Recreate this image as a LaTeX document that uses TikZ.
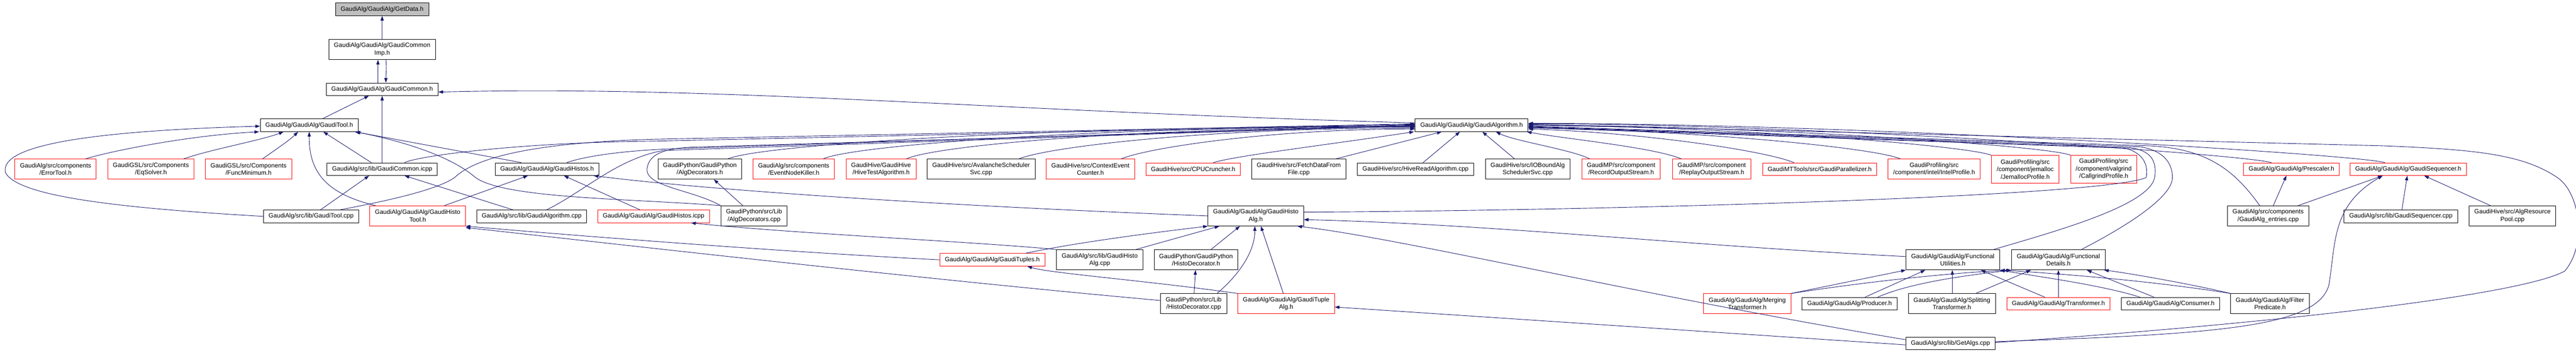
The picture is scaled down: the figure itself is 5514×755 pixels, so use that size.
\documentclass[tikz,border=0pt]{standalone}
\usepackage{fontspec}
\setmainfont{Liberation Sans}
\usetikzlibrary{arrows.meta}
\definecolor{edgeBlue}{HTML}{191970}
\definecolor{rootGray}{HTML}{BFBFBF}

\begin{document}
\begin{tikzpicture}[x = 1pt, y = -1pt]
	\tikzstyle{fileStyle}=[draw = black, line width = 1pt, fill = white, align = center, inner xsep = 11pt, inner ysep = 3pt, minimum height = 27pt, font = \fontsize{13.3}{16}\selectfont]
	\tikzstyle{redStyle}=[fileStyle, draw = red]
	\tikzstyle{rootStyle}=[fileStyle, fill = rootGray]
	\tikzstyle{twoLine}=[minimum height = 43pt]
	\tikzstyle{threeLine}=[minimum height = 59pt]
	\tikzstyle{EdgeStyle}=[draw = edgeBlue, line width = 1pt, -{Triangle[length = 10pt, width = 7pt]}]
	\useasboundingbox (0,0) rectangle (5514,755);
	% top of the graph
	\node[rootStyle] (getdata) at (818,20) {GaudiAlg/GaudiAlg/GetData.h};
	\node[fileStyle, twoLine] (commonimp) at (818,106) {GaudiAlg/GaudiAlg/GaudiCommon\\Imp.h};
	\node[fileStyle] (common) at (818,191) {GaudiAlg/GaudiAlg/GaudiCommon.h};
	\node[fileStyle] (tool) at (662,268) {GaudiAlg/GaudiAlg/GaudiTool.h};
	\node[fileStyle] (algh) at (3150,268) {GaudiAlg/GaudiAlg/GaudiAlgorithm.h};
	% row 4
	\node[redStyle, twoLine] (errortool) at (119,362) {GaudiAlg/src/components\\/ErrorTool.h};
	\node[redStyle, twoLine] (eqsolver) at (323,362) {GaudiGSL/src/Components\\/EqSolver.h};
	\node[redStyle, twoLine] (funcmin) at (532,362) {GaudiGSL/src/Components\\/FuncMinimum.h};
	\node[fileStyle] (commonicpp) at (818,362) {GaudiAlg/src/lib/GaudiCommon.icpp};
	\node[fileStyle] (histos) at (1171,362) {GaudiAlg/GaudiAlg/GaudiHistos.h};
	\node[fileStyle, twoLine] (algdech) at (1498,362) {GaudiPython/GaudiPython\\/AlgDecorators.h};
	\node[redStyle, twoLine] (enk) at (1699,362) {GaudiAlg/src/components\\/EventNodeKiller.h};
	\node[redStyle, twoLine] (hivetest) at (1886,362) {GaudiHive/GaudiHive\\/HiveTestAlgorithm.h};
	\node[fileStyle, twoLine] (avalanche) at (2100,362) {GaudiHive/src/AvalancheScheduler\\Svc.cpp};
	\node[redStyle, twoLine] (ctxcounter) at (2334,362) {GaudiHive/src/ContextEvent\\Counter.h};
	\node[redStyle] (cpucruncher) at (2554,362) {GaudiHive/src/CPUCruncher.h};
	\node[fileStyle, twoLine] (fetchdata) at (2780,362) {GaudiHive/src/FetchDataFrom\\File.cpp};
	\node[fileStyle] (hiveread) at (3030,362) {GaudiHive/src/HiveReadAlgorithm.cpp};
	\node[fileStyle, twoLine] (iobound) at (3270,362) {GaudiHive/src/IOBoundAlg\\SchedulerSvc.cpp};
	\node[redStyle, twoLine] (recordos) at (3470,362) {GaudiMP/src/component\\/RecordOutputStream.h};
	\node[redStyle, twoLine] (replayos) at (3664,362) {GaudiMP/src/component\\/ReplayOutputStream.h};
	\node[redStyle] (parallelizer) at (3895,362) {GaudiMTTools/src/GaudiParallelizer.h};
	\node[redStyle, twoLine] (intelprof) at (4140,362) {GaudiProfiling/src\\/component/intel/IntelProfile.h};
	\node[redStyle, threeLine] (jemalloc) at (4335,362) {GaudiProfiling/src\\/component/jemalloc\\/JemallocProfile.h};
	\node[redStyle, threeLine] (callgrind) at (4503,362) {GaudiProfiling/src\\/component/valgrind\\/CallgrindProfile.h};
	\node[redStyle] (prescaler) at (4905,362) {GaudiAlg/GaudiAlg/Prescaler.h};
	\node[redStyle] (sequencer) at (5155,362) {GaudiAlg/GaudiAlg/GaudiSequencer.h};
	% row 5
	\node[fileStyle] (toolcpp) at (666,463) {GaudiAlg/src/lib/GaudiTool.cpp};
	\node[redStyle, twoLine] (histotool) at (894,462) {GaudiAlg/GaudiAlg/GaudiHisto\\Tool.h};
	\node[fileStyle] (algcpp) at (1138,463) {GaudiAlg/src/lib/GaudiAlgorithm.cpp};
	\node[redStyle] (histosicpp) at (1399,463) {GaudiAlg/GaudiAlg/GaudiHistos.icpp};
	\node[fileStyle, twoLine] (algdeccpp) at (1614,462) {GaudiPython/src/Lib\\/AlgDecorators.cpp};
	\node[fileStyle, twoLine] (histoalg) at (2688,462) {GaudiAlg/GaudiAlg/GaudiHisto\\Alg.h};
	\node[fileStyle, twoLine] (entries) at (4855,462) {GaudiAlg/src/components\\/GaudiAlg\_entries.cpp};
	\node[fileStyle] (seqcpp) at (5139,463) {GaudiAlg/src/lib/GaudiSequencer.cpp};
	\node[fileStyle, twoLine] (respool) at (5378,462) {GaudiHive/src/AlgResource\\Pool.cpp};
	% row 6
	\node[redStyle] (tuples) at (2124,556) {GaudiAlg/GaudiAlg/GaudiTuples.h};
	\node[fileStyle, twoLine] (histoalgcpp) at (2354,556) {GaudiAlg/src/lib/GaudiHisto\\Alg.cpp};
	\node[fileStyle, twoLine] (histodech) at (2560,556) {GaudiPython/GaudiPython\\/HistoDecorator.h};
	\node[fileStyle, twoLine] (funcutil) at (4180,556) {GaudiAlg/GaudiAlg/Functional\\Utilities.h};
	\node[fileStyle, twoLine] (funcdet) at (4406,556) {GaudiAlg/GaudiAlg/Functional\\Details.h};
	% row 7
	\node[fileStyle, twoLine] (histodeccpp) at (2555,650) {GaudiPython/src/Lib\\/HistoDecorator.cpp};
	\node[redStyle, twoLine] (tuplealg) at (2753,650) {GaudiAlg/GaudiAlg/GaudiTuple\\Alg.h};
	\node[redStyle, twoLine] (merging) at (3740,650) {GaudiAlg/GaudiAlg/Merging\\Transformer.h};
	\node[fileStyle] (producer) at (3959,650) {GaudiAlg/GaudiAlg/Producer.h};
	\node[fileStyle, twoLine] (splitting) at (4178,650) {GaudiAlg/GaudiAlg/Splitting\\Transformer.h};
	\node[redStyle] (transformer) at (4406,650) {GaudiAlg/GaudiAlg/Transformer.h};
	\node[fileStyle] (consumer) at (4646,650) {GaudiAlg/GaudiAlg/Consumer.h};
	\node[fileStyle, twoLine] (filterpred) at (4859,650) {GaudiAlg/GaudiAlg/Filter\\Predicate.h};
	% row 8
	\node[fileStyle] (getalgs) at (4175,735) {GaudiAlg/src/lib/GetAlgs.cpp};
	% edges of the top part
	\draw[EdgeStyle] (commonimp) -- (getdata);
	\draw[EdgeStyle] ([xshift=-9pt]common.north) -- ([xshift=-9pt]commonimp.south);
	\draw[EdgeStyle] ([xshift=8pt]commonimp.south) .. controls +(2,20) and +(0,-20) .. ([xshift=8pt]common.north);
	\draw[EdgeStyle] (tool) -- (common);
	\draw[EdgeStyle] (commonicpp) -- (common);
	\draw[EdgeStyle] ([yshift=5pt]algh.west) .. controls +(-900,-25) and +(600,-15) .. ([yshift=-6pt]common.east);
	% edges into GaudiTool.h
	\draw[EdgeStyle] ([xshift=64pt]errortool.north) .. controls (230,325) and (400,290) .. ([xshift=-2pt]tool.south west);
	\draw[EdgeStyle] ([xshift=70pt]eqsolver.north) .. controls (450,320) and (560,300) .. ([xshift=-55pt]tool.south);
	\draw[EdgeStyle] ([xshift=30pt]funcmin.north) .. controls (590,320) and (620,300) .. ([xshift=-24pt]tool.south);
	\draw[EdgeStyle] (toolcpp.west) .. controls (250,445) and (40,420) .. (12,370) .. controls (-5,310) and (200,280) .. ([yshift=-2pt]tool.west);
	\draw[EdgeStyle] ([xshift=-90pt]histotool.north) .. controls (700,415) and (661,370) .. (tool.south);
	\draw[EdgeStyle] ([xshift=-23pt]commonicpp.north) -- ([xshift=30pt]tool.south);
	\draw[EdgeStyle] ([xshift=-55pt]histos.north) -- ([xshift=-8pt]tool.south east);
	\draw[EdgeStyle] (algdeccpp.north west) .. controls (1350,425) and (1080,425) .. (1018,380) .. controls (960,330) and (850,300) .. ([xshift=-6pt]tool.south east);
	% edges into GaudiCommon.icpp and GaudiHistos.h
	\draw[EdgeStyle] ([xshift=20pt]toolcpp.north) -- ([xshift=-28pt]commonicpp.south);
	\draw[EdgeStyle] ([xshift=-40pt]algcpp.north) -- ([xshift=48pt]commonicpp.south);
	\draw[EdgeStyle] ([xshift=57pt]histotool.north) -- ([xshift=-41pt]histos.south);
	\draw[EdgeStyle] ([xshift=-29pt]histosicpp.north) -- ([xshift=36pt]histos.south);
	\draw[EdgeStyle] (histoalg.west) .. controls (2000,440) and (1500,405) .. ([xshift=-12pt]histos.south east);
	\draw[EdgeStyle] ([xshift=-24pt]algdeccpp.north) -- ([xshift=30pt]algdech.south);
	% edges into GaudiAlgorithm.h from the left
	\draw[EdgeStyle] ([xshift=62pt]toolcpp.north) .. controls (800,435) and (930,410) .. (973,380) .. controls (1020,335) and (1150,305) .. (1400,298) -- ([yshift=3pt]algh.west);
	\draw[EdgeStyle] ([xshift=48pt]commonicpp.north) .. controls (890,335) and (1100,305) .. (1400,302) -- ([yshift=2pt]algh.west);
	\draw[EdgeStyle] ([xshift=42pt]histos.north) .. controls (1250,335) and (1330,322) .. (1450,318) -- ([yshift=1pt]algh.west);
	\draw[EdgeStyle] ([xshift=32pt]algcpp.north) .. controls (1250,410) and (1320,340) .. (1420,322) -- (algh.west);
	\draw[EdgeStyle] (algdeccpp.north west) .. controls (1480,405) and (1380,400) .. (1385,360) .. controls (1390,330) and (1420,318) .. (1480,315) -- ([yshift=-1pt]algh.west);
	\draw[EdgeStyle] ([xshift=60pt]algdech.north) .. controls +(70,-30) and +(-800,0) .. ([yshift=-2pt]algh.west);
	\draw[EdgeStyle] ([xshift=63pt]enk.north) .. controls +(60,-28) and +(-700,0) .. ([yshift=-3pt]algh.west);
	\draw[EdgeStyle] ([xshift=54pt]hivetest.north) .. controls +(60,-28) and +(-600,0) .. ([yshift=-4pt]algh.west);
	\draw[EdgeStyle] ([xshift=81pt]avalanche.north) .. controls +(60,-25) and +(-450,0) .. ([yshift=-6pt]algh.west);
	\draw[EdgeStyle] ([xshift=66pt]ctxcounter.north) .. controls +(60,-25) and +(-300,0) .. ([yshift=-8pt]algh.west);
	\draw[EdgeStyle] ([xshift=43pt]cpucruncher.north) .. controls +(50,-15) and +(-200,30) .. ([xshift=-2pt]algh.south west);
	\draw[EdgeStyle] ([xshift=79pt]fetchdata.north) -- ([xshift=-64pt]algh.south);
	\draw[EdgeStyle] ([xshift=16pt]hiveread.north) -- ([xshift=-25pt]algh.south);
	\draw[EdgeStyle] ([xshift=-28pt]iobound.north) -- ([xshift=23pt]algh.south);
	\draw[EdgeStyle] ([xshift=-67pt]recordos.north) .. controls +(-40,-20) and +(40,20) .. ([xshift=52pt]algh.south);
	\draw[EdgeStyle] ([xshift=-65pt]replayos.north) .. controls +(-60,-25) and +(80,15) .. ([xshift=-3pt]algh.south east);
	% edges into GaudiAlgorithm.h from the right
	\draw[EdgeStyle] ([xshift=-55pt]parallelizer.north) .. controls +(-60,-25) and +(250,8) .. ([yshift=-8pt]algh.east);
	\draw[EdgeStyle] ([xshift=-72pt]intelprof.north) .. controls +(-60,-25) and +(350,5) .. ([yshift=-6pt]algh.east);
	\draw[EdgeStyle] ([xshift=-73pt]jemalloc.north) .. controls +(-60,-22) and +(400,0) .. ([yshift=-1pt]algh.east);
	\draw[EdgeStyle] ([xshift=-71pt]callgrind.north) .. controls +(-60,-22) and +(450,0) .. (algh.east);
	\draw[EdgeStyle] ([xshift=-43pt]prescaler.north) .. controls +(-60,-18) and +(600,0) .. ([yshift=3pt]algh.east);
	\draw[EdgeStyle] ([xshift=-50pt]sequencer.north) .. controls +(-60,-18) and +(700,0) .. ([yshift=4pt]algh.east);
	\draw[EdgeStyle] ([xshift=-18pt]entries.north) .. controls (4780,360) and (4720,318) .. (4600,312) -- ([yshift=-2pt]algh.east);
	\draw[EdgeStyle] ([yshift=8pt]histoalg.east) .. controls (3500,450) and (4500,420) .. (4594,380) .. controls (4600,345) and (4580,325) .. (4548,317) -- ([yshift=-5pt]algh.east);
	\draw[EdgeStyle] ([xshift=87pt]funcutil.north) .. controls (4400,495) and (4600,440) .. (4612,380) .. controls (4618,340) and (4600,322) .. (4560,316) -- ([yshift=-4pt]algh.east);
	\draw[EdgeStyle] ([xshift=49pt]funcdet.north) .. controls (4560,480) and (4650,420) .. (4650,380) .. controls (4650,340) and (4620,320) .. (4580,314) -- ([yshift=-3pt]algh.east);
	\draw[EdgeStyle] ([yshift=2pt]getalgs.east) .. controls (4900,690) and (5400,630) .. (5490,580) .. controls (5540,520) and (5520,410) .. (5474,380) .. controls (5400,330) and (5300,320) .. (5100,312) -- ([yshift=2pt]algh.east);
	% edges into GaudiSequencer.h and Prescaler.h
	\draw[EdgeStyle] ([xshift=11pt]entries.north) -- ([xshift=-11pt]prescaler.south);
	\draw[EdgeStyle] ([xshift=64pt]entries.north) -- ([xshift=-55pt]sequencer.south);
	\draw[EdgeStyle] (seqcpp) -- (sequencer);
	\draw[EdgeStyle] ([xshift=-47pt]respool.north) -- ([xshift=34pt]sequencer.south);
	\draw[EdgeStyle] ([yshift=4pt]getalgs.east) .. controls (4750,715) and (4960,700) .. (4985,610) .. controls (5000,520) and (4990,440) .. ([xshift=-55pt]sequencer.south);
	% edges of the histo part
	\draw[EdgeStyle] (tuples.west) .. controls (1700,540) and (1300,510) .. (histotool.south east);
	\draw[EdgeStyle] ([yshift=7pt]histodeccpp.west) .. controls (2000,600) and (1300,520) .. ([yshift=-3pt]histotool.south east);
	\draw[EdgeStyle] (histoalgcpp.north west) .. controls (2100,518) and (1700,500) .. ([xshift=-40pt]histosicpp.south east);
	\draw[EdgeStyle] ([xshift=71pt]tuples.north) .. controls (2300,520) and (2450,500) .. (histoalg.south west);
	\draw[EdgeStyle] ([xshift=77pt]histoalgcpp.north) -- ([xshift=-78pt]histoalg.south);
	\draw[EdgeStyle] ([xshift=32pt]histodech.north) -- ([xshift=-34pt]histoalg.south);
	\draw[EdgeStyle] ([xshift=50pt]histodeccpp.north) .. controls (2650,590) and (2686,540) .. ([xshift=-2pt]histoalg.south);
	\draw[EdgeStyle] ([xshift=-6pt]tuplealg.north) -- ([xshift=11pt]histoalg.south);
	\draw[EdgeStyle] ([yshift=8pt]getalgs.west) .. controls (3500,630) and (3000,510) .. ([xshift=-14pt]histoalg.south east);
	\draw[EdgeStyle] ([yshift=7pt]funcutil.west) .. controls (3600,525) and (3200,480) .. ([yshift=-8pt]histoalg.east);
	\draw[EdgeStyle] (tuplealg.north west) .. controls (2450,600) and (2250,585) .. ([xshift=75pt]tuples.south);
	\draw[EdgeStyle] ([xshift=1pt]histodeccpp.north) -- ([xshift=-1pt]histodech.south);
	\draw[EdgeStyle] ([yshift=-3pt]getalgs.west) -- ([yshift=-7pt]tuplealg.east);
	% edges of the functional part
	\draw[EdgeStyle] (merging.north east) -- (funcutil.south west);
	\draw[EdgeStyle] (merging.north east) .. controls (3961,608) and (4150,585) .. (funcdet.south west);
	\draw[EdgeStyle] ([xshift=33pt]producer.north) -- ([xshift=-59pt]funcutil.south);
	\draw[EdgeStyle] ([xshift=60pt]producer.north) .. controls (4100,600) and (4250,585) .. ([xshift=-1pt]funcdet.south west);
	\draw[EdgeStyle] ([xshift=1pt]splitting.north) -- ([xshift=-1pt]funcutil.south);
	\draw[EdgeStyle] ([xshift=51pt]splitting.north) -- ([xshift=-59pt]funcdet.south);
	\draw[EdgeStyle] ([xshift=-29pt]transformer.north) -- ([xshift=60pt]funcutil.south);
	\draw[EdgeStyle] (transformer) -- (funcdet);
	\draw[EdgeStyle] ([xshift=-65pt]consumer.north) .. controls (4500,610) and (4350,590) .. (funcutil.south east);
	\draw[EdgeStyle] ([xshift=-35pt]consumer.north) -- ([xshift=61pt]funcdet.south);
	\draw[EdgeStyle] (filterpred.north west) .. controls (4600,600) and (4400,585) .. ([xshift=1pt]funcutil.south east);
	\draw[EdgeStyle] (filterpred.north west) .. controls (4700,610) and (4560,585) .. ([xshift=-3pt]funcdet.south east);
\end{tikzpicture}
\end{document}
